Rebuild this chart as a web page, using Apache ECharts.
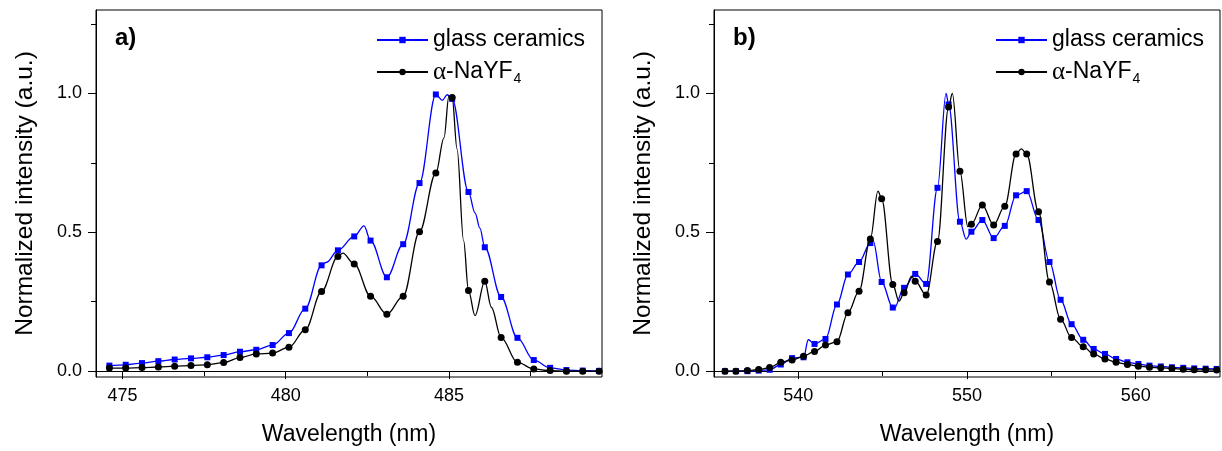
<!DOCTYPE html>
<html>
<head>
<meta charset="utf-8">
<script src="https://cdn.jsdelivr.net/npm/echarts@6/dist/echarts.min.js"></script>
<style>
  html, body { margin: 0; padding: 0; background: #fff; }
  #chart { width: 1222px; height: 451px; }
</style>
</head>
<body>
<div id="chart"></div>
<script>
// ---- series names ----
const GLASS = 'glass ceramics';
const NAYF = 'α-NaYF4';

// ---- panel a) : 474–490 nm band ----
const waveA = [474.6, 475.1, 475.6, 476.1, 476.6, 477.1, 477.6, 478.1, 478.6, 479.1,
               479.6, 480.1, 480.6, 481.1, 481.6, 482.1, 482.6, 483.1, 483.6, 484.1,
               484.6, 485.1, 485.6, 486.1, 486.6, 487.1, 487.6, 488.1, 488.6, 489.1, 489.6];
const glassA = [0.020, 0.023, 0.029, 0.036, 0.042, 0.046, 0.050, 0.058, 0.070, 0.077,
                0.094, 0.137, 0.225, 0.381, 0.435, 0.485, 0.470, 0.338, 0.457, 0.677,
                0.996, 0.980, 0.645, 0.446, 0.267, 0.120, 0.040, 0.012, 0.004, 0.002, 0.001];
const nayfA = [0.011, 0.011, 0.013, 0.015, 0.018, 0.020, 0.023, 0.031, 0.049, 0.062,
               0.065, 0.086, 0.149, 0.287, 0.413, 0.386, 0.270, 0.205, 0.270, 0.502,
               0.713, 0.985, 0.290, 0.324, 0.121, 0.032, 0.008, 0.002, 0.000, 0.000, 0.000];
// spectrum points between the marked samples (no marker drawn)
const glassAFine = [[481.25, 0.392], [482.4, 0.523], [484.8, 0.975], [484.95, 0.995],
                    [485.8, 0.57], [485.95, 0.515]];
const nayfAFine = [[481.75, 0.425], [484.85, 0.84], [485.0, 0.99], [485.25, 0.80],
                   [485.45, 0.47], [485.8, 0.20], [486.3, 0.23]];
const xTicksA = [475, 480, 485];
const xMinorA = [477.5, 482.5, 487.5];

// ---- panel b) : 535–565 nm band ----
const waveB = [535.65, 536.30, 536.98, 537.65, 538.30, 538.96, 539.63, 540.31, 540.96, 541.61,
               542.29, 542.94, 543.60, 544.27, 544.94, 545.60, 546.27, 546.93, 547.58, 548.25,
               548.91, 549.58, 550.26, 550.91, 551.58, 552.24, 552.91, 553.54, 554.24, 554.89,
               555.55, 556.20, 556.89, 557.51, 558.18, 558.84, 559.51, 560.16, 560.82, 561.49,
               562.15, 562.82, 563.47, 564.15, 564.80];
const glassB = [0.000, 0.000, 0.000, 0.002, 0.005, 0.024, 0.047, 0.050, 0.098, 0.116,
                0.240, 0.348, 0.393, 0.461, 0.321, 0.229, 0.300, 0.350, 0.314, 0.660,
                0.960, 0.538, 0.502, 0.544, 0.479, 0.523, 0.633, 0.648, 0.544, 0.393,
                0.257, 0.169, 0.113, 0.080, 0.062, 0.044, 0.032, 0.026, 0.020, 0.017,
                0.014, 0.012, 0.010, 0.009, 0.008];
const nayfB = [0.000, 0.000, 0.002, 0.006, 0.013, 0.032, 0.040, 0.054, 0.071, 0.094,
               0.106, 0.210, 0.288, 0.476, 0.621, 0.312, 0.282, 0.324, 0.274, 0.467,
               0.951, 0.720, 0.529, 0.598, 0.526, 0.594, 0.782, 0.782, 0.574, 0.321,
               0.187, 0.121, 0.088, 0.062, 0.044, 0.032, 0.024, 0.018, 0.014, 0.012,
               0.010, 0.007, 0.005, 0.005, 0.004];
const glassBFine = [[540.59, 0.113], [544.43, 0.47], [545.66, 0.224], [548.76, 1.0], [549.95, 0.475]];
const nayfBFine = [[544.72, 0.648], [545.97, 0.252], [546.72, 0.342], [549.13, 1.0],
                   [550.05, 0.52], [553.22, 0.80]];
const xTicksB = [540, 550, 560];
const xMinorB = [545, 555];

// ---- shared intensity axis ----
const yTicks = [0, 0.5, 1.0];
const yMinor = [0.25, 0.75, 1.25];

const FONT = '"Liberation Sans", Arial, sans-serif';
const BLUE = '#0000ff';
const BLACK = '#000000';

// merge marked samples with fine points, markers only on the marked ones
function buildData(waves, vals, fine) {
  const pts = waves.map((w, i) => ({ value: [w, vals[i]] }));
  fine.forEach(([w, v]) => pts.push({ value: [w, v], symbol: 'none' }));
  pts.sort((p, q) => p.value[0] - q.value[0]);
  return pts;
}

function majorX(grid, min, max, ticks) {
  return {
    type: 'value', gridIndex: grid, min: min, max: max,
    axisLine: { show: true, lineStyle: { color: BLACK, width: 1 } },
    axisTick: { show: true, inside: false, length: 8, customValues: ticks, lineStyle: { color: BLACK, width: 1 } },
    axisLabel: { show: true, customValues: ticks, color: BLACK, fontSize: 18, fontFamily: FONT, margin: 10 },
    splitLine: { show: false },
    name: 'Wavelength (nm)', nameLocation: 'middle', nameGap: 46,
    nameTextStyle: { color: BLACK, fontSize: 23, fontFamily: FONT }
  };
}
function minorX(grid, min, max, ticks) {
  return {
    type: 'value', gridIndex: grid, min: min, max: max, position: 'bottom',
    axisLine: { show: false },
    axisTick: { show: true, inside: false, length: 5, customValues: ticks, lineStyle: { color: BLACK, width: 1 } },
    axisLabel: { show: false },
    splitLine: { show: false }
  };
}
function majorY(grid) {
  return {
    type: 'value', gridIndex: grid, min: -0.021, max: 1.3,
    axisLine: { show: true, lineStyle: { color: BLACK, width: 1 } },
    axisTick: { show: true, inside: false, length: 8, customValues: yTicks, lineStyle: { color: BLACK, width: 1 } },
    axisLabel: { show: true, customValues: yTicks, color: BLACK, fontSize: 18, fontFamily: FONT, margin: 14,
                 formatter: v => v.toFixed(1) },
    splitLine: { show: false },
    name: 'Normalized intensity (a.u.)', nameLocation: 'middle', nameGap: 58,
    nameTextStyle: { color: BLACK, fontSize: 24.5, fontFamily: FONT }
  };
}
function minorY(grid) {
  return {
    type: 'value', gridIndex: grid, min: -0.021, max: 1.3, position: 'left',
    axisLine: { show: false },
    axisTick: { show: true, inside: false, length: 5, customValues: yMinor, lineStyle: { color: BLACK, width: 1 } },
    axisLabel: { show: false },
    splitLine: { show: false }
  };
}

function lineSeries(name, xi, yi, data, color, symbol, size) {
  return {
    name: name, type: 'line', xAxisIndex: xi, yAxisIndex: yi,
    data: data, smooth: 0.35, smoothMonotone: 'x',
    symbol: symbol, symbolSize: size, showAllSymbol: true,
    lineStyle: { color: color, width: 1.3 },
    itemStyle: { color: color, borderWidth: 0 },
    emphasis: { disabled: true },
    animation: false, z: name === NAYF ? 3 : 2
  };
}

function legendFor(left) {
  return {
    data: [GLASS, NAYF], orient: 'vertical', left: left, top: 28, padding: 0,
    itemWidth: 51, itemHeight: 8, itemGap: 6,
    selectedMode: false,
    formatter: n => n === NAYF ? '{g|α}{t|-NaYF}{s|4}' : '{t|' + n + '}',
    textStyle: {
      color: BLACK, fontFamily: FONT, fontSize: 23, lineHeight: 24,
      rich: {
        t: { fontSize: 23, fontFamily: FONT, color: BLACK, lineHeight: 24 },
        g: { fontSize: 25, fontFamily: '"Liberation Serif", "Times New Roman", serif', color: BLACK, lineHeight: 24 },
        s: { fontSize: 14, fontFamily: FONT, color: BLACK, padding: [14, 0, 0, 1], lineHeight: 24 }
      }
    }
  };
}

const chart = echarts.init(document.getElementById('chart'), null, { renderer: 'canvas' });
chart.setOption({
  backgroundColor: '#ffffff',
  animation: false,
  title: [
    { text: 'a)', left: 115, top: 26, padding: 0,
      textStyle: { fontSize: 24, fontWeight: 'bold', color: BLACK, fontFamily: FONT } },
    { text: 'b)', left: 733, top: 26, padding: 0,
      textStyle: { fontSize: 24, fontWeight: 'bold', color: BLACK, fontFamily: FONT } }
  ],
  grid: [
    { left: 96, top: 10, width: 506, height: 370, show: true, borderColor: BLACK, borderWidth: 1, backgroundColor: 'transparent' },
    { left: 714, top: 10, width: 506, height: 370, show: true, borderColor: BLACK, borderWidth: 1, backgroundColor: 'transparent' }
  ],
  xAxis: [
    majorX(0, 474.19, 489.69, xTicksA),
    minorX(0, 474.19, 489.69, xMinorA),
    majorX(1, 535, 565, xTicksB),
    minorX(1, 535, 565, xMinorB)
  ],
  yAxis: [majorY(0), minorY(0), majorY(1), minorY(1)],
  legend: [legendFor(376), legendFor(995)],
  series: [
    lineSeries(GLASS, 0, 0, buildData(waveA, glassA, glassAFine), BLUE, 'rect', 6),
    lineSeries(NAYF, 0, 0, buildData(waveA, nayfA, nayfAFine), BLACK, 'circle', 7),
    lineSeries(GLASS, 2, 2, buildData(waveB, glassB, glassBFine), BLUE, 'rect', 6),
    lineSeries(NAYF, 2, 2, buildData(waveB, nayfB, nayfBFine), BLACK, 'circle', 7)
  ]
});
</script>
</body>
</html>
